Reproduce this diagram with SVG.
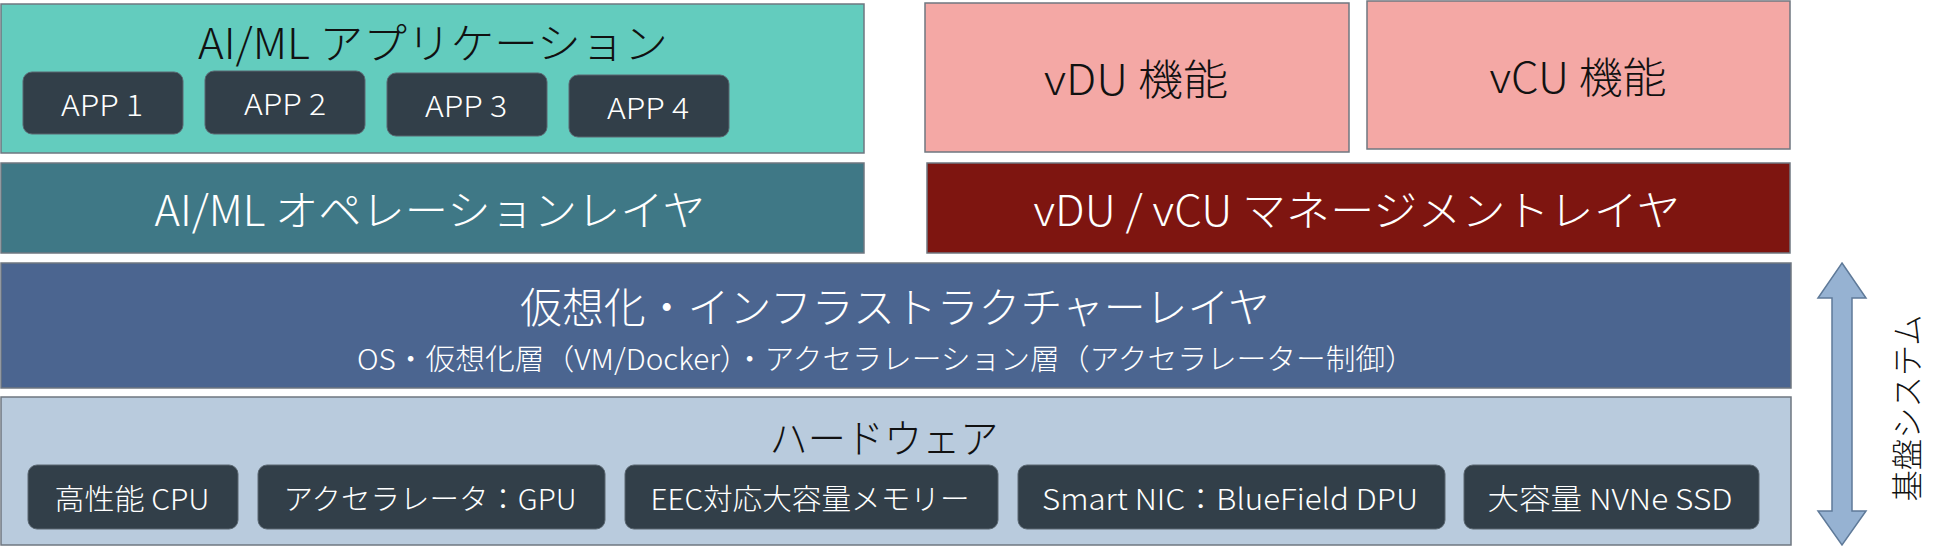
<svg xmlns="http://www.w3.org/2000/svg" width="1950" height="547" viewBox="0 0 1950 547">
<style>
text{font-family:"Noto Sans CJK JP","Noto Sans",sans-serif;font-weight:300;text-anchor:middle;dominant-baseline:central}
.layer{stroke:#6f7780;stroke-width:1.5}
.chip{fill:#323f49;stroke:#5a6670;stroke-width:1}
.t42{font-size:42px}
.t29{font-size:29px}
.w{fill:#ffffff}
.k{fill:#111111}
</style>
<rect width="1950" height="547" fill="#ffffff"/>
<g id="aiml-app">
<rect class="layer" x="1" y="4" width="863" height="149" fill="#63ccbe"/>
<text class="t42 k" x="433" y="40" textLength="470" lengthAdjust="spacingAndGlyphs">AI/ML アプリケーション</text>
<g id="app1"><rect class="chip" x="23" y="72" width="160" height="62" rx="9"/><text class="t29 w" x="102" y="103" textLength="82" lengthAdjust="spacingAndGlyphs">APP 1</text></g>
<g id="app2"><rect class="chip" x="205" y="71" width="160" height="63" rx="9"/><text class="t29 w" x="285" y="102" textLength="82" lengthAdjust="spacingAndGlyphs">APP 2</text></g>
<g id="app3"><rect class="chip" x="387" y="73" width="160" height="63" rx="9"/><text class="t29 w" x="466" y="104" textLength="82" lengthAdjust="spacingAndGlyphs">APP 3</text></g>
<g id="app4"><rect class="chip" x="569" y="75" width="160" height="62" rx="9"/><text class="t29 w" x="648" y="106" textLength="82" lengthAdjust="spacingAndGlyphs">APP 4</text></g>
</g>
<g id="aiml-ops">
<rect class="layer" x="1" y="163" width="863" height="90" fill="#3f7886"/>
<text class="t42 w" x="430" y="207" textLength="551" lengthAdjust="spacingAndGlyphs">AI/ML オペレーションレイヤ</text>
</g>
<g id="vdu">
<rect class="layer" x="925" y="3" width="424" height="149" fill="#f4a8a5"/>
<text class="t42 k" x="1136" y="76" textLength="184" lengthAdjust="spacingAndGlyphs">vDU 機能</text>
</g>
<g id="vcu">
<rect class="layer" x="1367" y="1" width="423" height="148" fill="#f4a8a5"/>
<text class="t42 k" x="1578" y="74" textLength="177" lengthAdjust="spacingAndGlyphs">vCU 機能</text>
</g>
<g id="vdu-vcu-mgmt">
<rect class="layer" x="927" y="163" width="863" height="90" fill="#7e1510"/>
<text class="t42 w" x="1357" y="207" textLength="647" lengthAdjust="spacingAndGlyphs">vDU / vCU マネージメントレイヤ</text>
</g>
<g id="infra">
<rect class="layer" x="1" y="263" width="1790" height="125" fill="#4b6590"/>
<text class="t42 w" x="895" y="304" textLength="750" lengthAdjust="spacingAndGlyphs">仮想化・インフラストラクチャーレイヤ</text>
<text class="w" x="886" y="357" font-size="29" textLength="1058" lengthAdjust="spacingAndGlyphs">OS・仮想化層（VM/Docker）・アクセラレーション層（アクセラレーター制御）</text>
</g>
<g id="hardware">
<rect class="layer" x="1" y="397" width="1790" height="148" fill="#b9cbdd"/>
<text class="k" x="884" y="436" font-size="40" textLength="229" lengthAdjust="spacingAndGlyphs">ハードウェア</text>
<g id="hw1"><rect class="chip" x="28" y="465" width="210" height="64" rx="9"/><text class="t29 w" x="132" y="497" textLength="155" lengthAdjust="spacingAndGlyphs">高性能 CPU</text></g>
<g id="hw2"><rect class="chip" x="258" y="465" width="347" height="64" rx="9"/><text class="t29 w" x="430" y="497" textLength="293" lengthAdjust="spacingAndGlyphs">アクセラレータ：GPU</text></g>
<g id="hw3"><rect class="chip" x="625" y="465" width="373" height="64" rx="9"/><text class="t29 w" x="810" y="497" textLength="319" lengthAdjust="spacingAndGlyphs">EEC対応大容量メモリー</text></g>
<g id="hw4"><rect class="chip" x="1018" y="465" width="427" height="64" rx="9"/><text class="t29 w" x="1230" y="497" textLength="376" lengthAdjust="spacingAndGlyphs">Smart NIC：BlueField DPU</text></g>
<g id="hw5"><rect class="chip" x="1464" y="465" width="295" height="64" rx="9"/><text class="t29 w" x="1610" y="497" textLength="245" lengthAdjust="spacingAndGlyphs">大容量 NVNe SSD</text></g>
</g>
<g id="connectors">
<path d="M1842,263 L1866,298 L1852,298 L1852,511 L1866,511 L1842,545 L1818,511 L1832,511 L1832,298 L1818,298 Z" fill="#96b2d2" stroke="#5f7a99" stroke-width="1.5" stroke-linejoin="miter"/>
</g>
<g id="label-kiban">
<text class="k" font-size="32" transform="translate(1905,408) rotate(-90)" textLength="187" lengthAdjust="spacingAndGlyphs">基盤システム</text>
</g>
</svg>
